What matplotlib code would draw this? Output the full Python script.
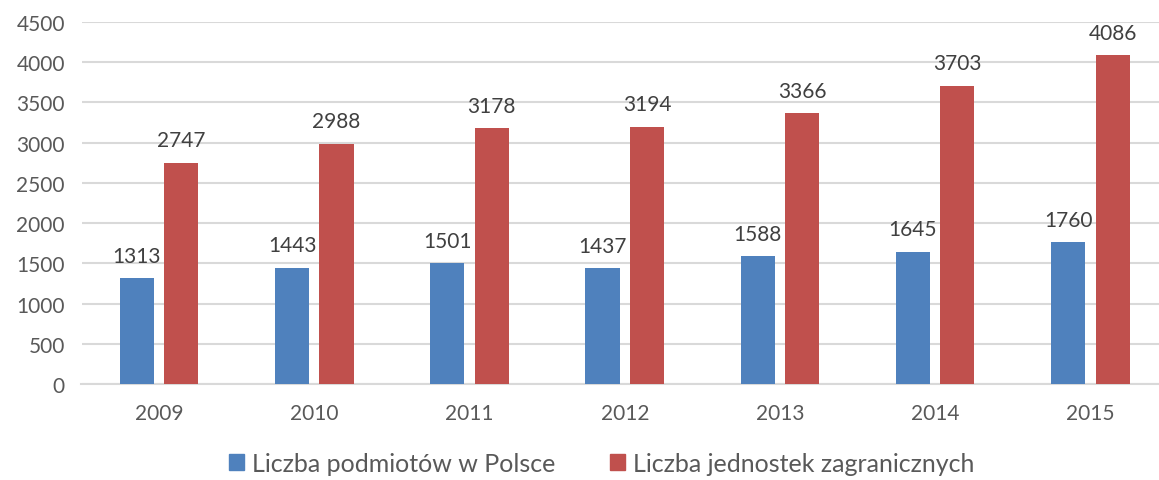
import matplotlib.pyplot as plt
import numpy as np
from matplotlib.patches import Patch

years = ["2009", "2010", "2011", "2012", "2013", "2014", "2015"]
podmioty = [1313, 1443, 1501, 1437, 1588, 1645, 1760]
jednostki = [2747, 2988, 3178, 3194, 3366, 3703, 4086]
series_names = ["Liczba podmiotów w Polsce", "Liczba jednostek zagranicznych"]

blue = "#4F81BD"
red = "#C0504D"
txt = "#595959"

plt.rcParams["font.family"] = ["Lato", "DejaVu Sans"]

fig = plt.figure(figsize=(11.59, 4.81), dpi=100)
ax = fig.add_axes([81.5 / 1159, 96 / 481, 1086.5 / 1159, 362 / 481])

x = np.arange(len(years))
w = 0.22
off = 0.143
b1 = ax.bar(x - off, podmioty, w, color=blue, zorder=3)
b2 = ax.bar(x + off, jednostki, w, color=red, zorder=3)

for bars, vals in ((b1, podmioty), (b2, jednostki)):
    for rect, v in zip(bars, vals):
        ax.annotate(str(v), (rect.get_x() + rect.get_width() / 2, v),
                    xytext=(0, 12), textcoords="offset points",
                    ha="center", va="baseline", fontsize=15, color="#404040")

ax.set_xlim(-0.5, len(years) - 0.5)
ax.set_ylim(0, 4500)
ax.set_yticks(range(0, 4501, 500))
ax.set_xticks(x)
ax.set_xticklabels(years)
ax.yaxis.grid(True, color="#D9D9D9", linewidth=1.5, zorder=0)
ax.tick_params(axis="both", length=0, labelsize=15, labelcolor=txt)
ax.tick_params(axis="x", pad=14)
ax.tick_params(axis="y", pad=12)
for s in ["top", "right", "left"]:
    ax.spines[s].set_visible(False)
ax.spines["bottom"].set_color("#D9D9D9")
ax.spines["bottom"].set_linewidth(1.5)

handles = [Patch(color=blue), Patch(color=red)]
fig.legend(handles, series_names, loc="lower center", bbox_to_anchor=(0.519, -0.016),
           ncol=2, frameon=False, fontsize=18, labelcolor=txt,
           handlelength=0.6, handleheight=0.6, handletextpad=0.3,
           columnspacing=2.2, borderpad=0.0)

fig.savefig("out.png", dpi=100)
